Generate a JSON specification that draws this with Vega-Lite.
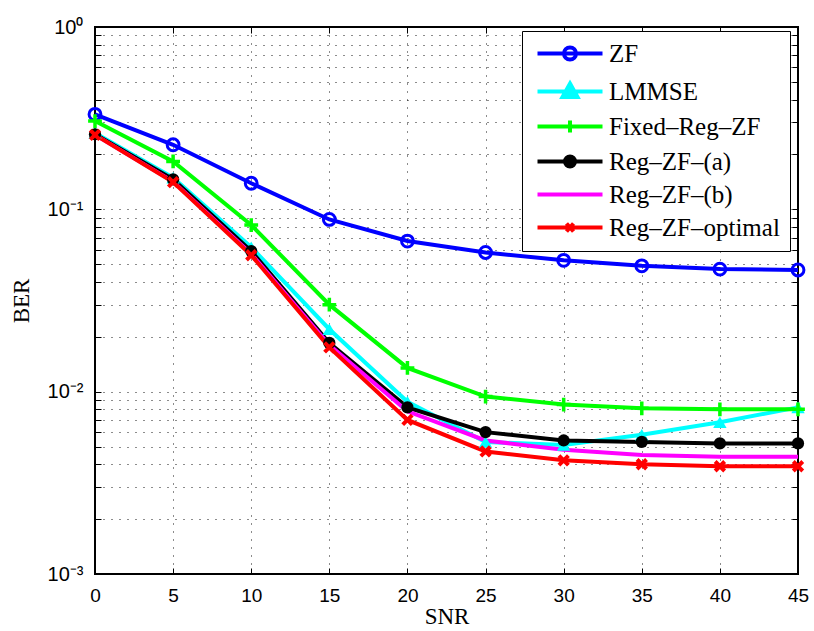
{
  "$schema": "https://vega.github.io/schema/vega-lite/v6.json",
  "width": 703,
  "height": 547,
  "autosize": "none",
  "padding": {"left": 95, "top": 27, "right": 16, "bottom": 57},
  "background": "white",
  "config": {"view": {"stroke": "black", "strokeWidth": 2}, "font": "Liberation Sans"},
  "data": {"values": [
    {"snr": 0, "ber": 0.332, "method": "ZF"},
    {"snr": 5, "ber": 0.226, "method": "ZF"},
    {"snr": 10, "ber": 0.139, "method": "ZF"},
    {"snr": 15, "ber": 0.088, "method": "ZF"},
    {"snr": 20, "ber": 0.067, "method": "ZF"},
    {"snr": 25, "ber": 0.058, "method": "ZF"},
    {"snr": 30, "ber": 0.0525, "method": "ZF"},
    {"snr": 35, "ber": 0.049, "method": "ZF"},
    {"snr": 40, "ber": 0.047, "method": "ZF"},
    {"snr": 45, "ber": 0.0465, "method": "ZF"},
    {"snr": 0, "ber": 0.262, "method": "LMMSE"},
    {"snr": 5, "ber": 0.149, "method": "LMMSE"},
    {"snr": 10, "ber": 0.062, "method": "LMMSE"},
    {"snr": 15, "ber": 0.022, "method": "LMMSE"},
    {"snr": 20, "ber": 0.0088, "method": "LMMSE"},
    {"snr": 25, "ber": 0.0053, "method": "LMMSE"},
    {"snr": 30, "ber": 0.0051, "method": "LMMSE"},
    {"snr": 35, "ber": 0.0058, "method": "LMMSE"},
    {"snr": 40, "ber": 0.0068, "method": "LMMSE"},
    {"snr": 45, "ber": 0.0082, "method": "LMMSE"},
    {"snr": 0, "ber": 0.305, "method": "Fixed–Reg–ZF"},
    {"snr": 5, "ber": 0.183, "method": "Fixed–Reg–ZF"},
    {"snr": 10, "ber": 0.082, "method": "Fixed–Reg–ZF"},
    {"snr": 15, "ber": 0.030, "method": "Fixed–Reg–ZF"},
    {"snr": 20, "ber": 0.0135, "method": "Fixed–Reg–ZF"},
    {"snr": 25, "ber": 0.0094, "method": "Fixed–Reg–ZF"},
    {"snr": 30, "ber": 0.0085, "method": "Fixed–Reg–ZF"},
    {"snr": 35, "ber": 0.0081, "method": "Fixed–Reg–ZF"},
    {"snr": 40, "ber": 0.0080, "method": "Fixed–Reg–ZF"},
    {"snr": 45, "ber": 0.0080, "method": "Fixed–Reg–ZF"},
    {"snr": 0, "ber": 0.258, "method": "Reg–ZF–(a)"},
    {"snr": 5, "ber": 0.146, "method": "Reg–ZF–(a)"},
    {"snr": 10, "ber": 0.059, "method": "Reg–ZF–(a)"},
    {"snr": 15, "ber": 0.0185, "method": "Reg–ZF–(a)"},
    {"snr": 20, "ber": 0.0082, "method": "Reg–ZF–(a)"},
    {"snr": 25, "ber": 0.0060, "method": "Reg–ZF–(a)"},
    {"snr": 30, "ber": 0.0054, "method": "Reg–ZF–(a)"},
    {"snr": 35, "ber": 0.0053, "method": "Reg–ZF–(a)"},
    {"snr": 40, "ber": 0.0052, "method": "Reg–ZF–(a)"},
    {"snr": 45, "ber": 0.0052, "method": "Reg–ZF–(a)"},
    {"snr": 0, "ber": 0.256, "method": "Reg–ZF–(b)"},
    {"snr": 5, "ber": 0.142, "method": "Reg–ZF–(b)"},
    {"snr": 10, "ber": 0.057, "method": "Reg–ZF–(b)"},
    {"snr": 15, "ber": 0.018, "method": "Reg–ZF–(b)"},
    {"snr": 20, "ber": 0.0078, "method": "Reg–ZF–(b)"},
    {"snr": 25, "ber": 0.0054, "method": "Reg–ZF–(b)"},
    {"snr": 30, "ber": 0.0048, "method": "Reg–ZF–(b)"},
    {"snr": 35, "ber": 0.0045, "method": "Reg–ZF–(b)"},
    {"snr": 40, "ber": 0.0044, "method": "Reg–ZF–(b)"},
    {"snr": 45, "ber": 0.0044, "method": "Reg–ZF–(b)"},
    {"snr": 0, "ber": 0.256, "method": "Reg–ZF–optimal"},
    {"snr": 5, "ber": 0.141, "method": "Reg–ZF–optimal"},
    {"snr": 10, "ber": 0.056, "method": "Reg–ZF–optimal"},
    {"snr": 15, "ber": 0.0175, "method": "Reg–ZF–optimal"},
    {"snr": 20, "ber": 0.0070, "method": "Reg–ZF–optimal"},
    {"snr": 25, "ber": 0.0047, "method": "Reg–ZF–optimal"},
    {"snr": 30, "ber": 0.0042, "method": "Reg–ZF–optimal"},
    {"snr": 35, "ber": 0.0040, "method": "Reg–ZF–optimal"},
    {"snr": 40, "ber": 0.0039, "method": "Reg–ZF–optimal"},
    {"snr": 45, "ber": 0.0039, "method": "Reg–ZF–optimal"}
  ]},
  "resolve": {"axis": {"x": "independent", "y": "independent"}},
  "layer": [
    {
      "encoding": {
        "x": {
          "field": "snr", "type": "quantitative",
          "scale": {"domain": [0, 45], "nice": false, "zero": false},
          "axis": {
            "values": [0, 5, 10, 15, 20, 25, 30, 35, 40, 45],
            "grid": true, "gridColor": "black", "gridDash": [1, 7], "gridOpacity": 0.9, "gridWidth": 1,
            "domain": false, "tickSize": -6, "tickColor": "black", "tickWidth": 1,
            "labelFont": "Liberation Sans", "labelFontSize": 19, "labelColor": "black",
            "labelPadding": 18, "labelFlush": false, "labelBound": false,
            "title": "SNR", "titleFont": "Liberation Serif", "titleFontSize": 23,
            "titleFontWeight": "normal", "titleColor": "black", "titlePadding": 0
          }
        },
        "y": {
          "field": "ber", "type": "quantitative",
          "scale": {"type": "log", "domain": [0.001, 1], "nice": false},
          "axis": {
            "values": [0.001, 0.002, 0.003, 0.004, 0.005, 0.006, 0.007, 0.008, 0.009, 0.01, 0.02, 0.03, 0.04, 0.05, 0.06, 0.07, 0.08, 0.09, 0.1, 0.2, 0.3, 0.4, 0.5, 0.6, 0.7, 0.8, 0.9, 1],
            "labelExpr": "datum.value == 1 ? '10⁰' : datum.value == 0.1 ? '10⁻¹' : datum.value == 0.01 ? '10⁻²' : datum.value == 0.001 ? '10⁻³' : ''",
            "grid": true, "gridColor": "black", "gridDash": [1, 7], "gridOpacity": 0.9, "gridWidth": 1,
            "domain": false, "tickSize": -6, "tickColor": "black", "tickWidth": 1,
            "labelFont": "Liberation Sans", "labelFontSize": 20, "labelColor": "black",
            "labelPadding": 18, "labelOverlap": false, "labelFlush": false, "labelBound": false,
            "title": "BER", "titleFont": "Liberation Serif", "titleFontSize": 23,
            "titleFontWeight": "normal", "titleColor": "black", "titlePadding": 14
          }
        }
      },
      "layer": [
        {
          "mark": {"type": "line", "strokeWidth": 4},
          "encoding": {
            "color": {
              "field": "method", "type": "nominal",
              "scale": {
                "domain": ["ZF", "LMMSE", "Fixed–Reg–ZF", "Reg–ZF–(a)", "Reg–ZF–(b)", "Reg–ZF–optimal"],
                "range": ["#0000ff", "#00ffff", "#00ff00", "#000000", "#ff00ff", "#ff0000"]
              },
              "legend": {
                "title": null, "orient": "none", "legendX": 427, "legendY": 4,
                "strokeColor": "black", "fillColor": "white", "padding": 10, "cornerRadius": 0,
                "labelFont": "Liberation Serif", "labelFontSize": 25, "labelColor": "black",
                "labelOffset": 52, "labelLimit": 400, "rowPadding": 7,
                "symbolSize": 100, "symbolStrokeWidth": 4,
                "encode": {
                  "symbols": {
                    "update": {
                      "shape": {"signal": "datum.value === 'ZF' ? 'M-1.4,0H11.6M3.9,0A1.2,1.2 0 1,0 6.3,0A1.2,1.2 0 1,0 3.9,0' : datum.value === 'LMMSE' ? 'M-1.4,0H11.6M5.1,-1.6L6.6,1.1L3.6,1.1Z' : datum.value === 'Fixed–Reg–ZF' ? 'M-1.4,0H11.6M3.9,0H6.3M5.1,-1.2V1.2' : datum.value === 'Reg–ZF–(a)' ? 'M-1.4,0H11.6M4.1,0A1,1 0 1,0 6.1,0A1,1 0 1,0 4.1,0' : datum.value === 'Reg–ZF–optimal' ? 'M-1.4,0H11.6M4.4,-0.8L5.8,0.8M4.4,0.8L5.8,-0.8' : 'M-1.4,0H11.6'"},
                      "fill": {"signal": "datum.value === 'LMMSE' ? '#00ffff' : datum.value === 'Reg–ZF–(a)' ? '#000000' : 'transparent'"},
                      "strokeWidth": {"value": 4},
                      "size": {"value": 100}
                    }
                  }
                }
              }
            }
          }
        },
        {
          "transform": [{"filter": "datum.method === 'ZF'"}],
          "mark": {"type": "point", "shape": "circle", "filled": false, "color": "#0000ff", "size": 140, "strokeWidth": 3, "opacity": 1}
        },
        {
          "transform": [{"filter": "datum.method === 'LMMSE'"}],
          "mark": {"type": "point", "shape": "triangle-up", "filled": true, "color": "#00ffff", "size": 180, "opacity": 1}
        },
        {
          "transform": [{"filter": "datum.method === 'Fixed–Reg–ZF'"}],
          "mark": {"type": "point", "shape": "M-1,0H1M0,-1V1", "filled": false, "color": "#00ff00", "size": 190, "strokeWidth": 3.5, "opacity": 1}
        },
        {
          "transform": [{"filter": "datum.method === 'Reg–ZF–(a)'"}],
          "mark": {"type": "point", "shape": "circle", "filled": true, "color": "#000000", "size": 150, "opacity": 1}
        },
        {
          "transform": [{"filter": "datum.method === 'Reg–ZF–optimal'"}],
          "mark": {"type": "point", "shape": "M-1,-1L1,1M-1,1L1,-1", "filled": false, "color": "#ff0000", "size": 90, "strokeWidth": 4, "opacity": 1}
        }
      ]
    },
    {
      "mark": {"type": "point", "opacity": 0},
      "encoding": {
        "x": {
          "field": "snr", "type": "quantitative",
          "axis": {"orient": "top", "values": [0, 5, 10, 15, 20, 25, 30, 35, 40, 45], "labels": false, "grid": false, "domain": false, "tickSize": -6, "tickColor": "black", "title": null}
        },
        "y": {
          "field": "ber", "type": "quantitative", "scale": {"type": "log"},
          "axis": {"orient": "right", "values": [0.001, 0.002, 0.003, 0.004, 0.005, 0.006, 0.007, 0.008, 0.009, 0.01, 0.02, 0.03, 0.04, 0.05, 0.06, 0.07, 0.08, 0.09, 0.1, 0.2, 0.3, 0.4, 0.5, 0.6, 0.7, 0.8, 0.9, 1], "labels": false, "grid": false, "domain": false, "tickSize": -6, "tickColor": "black", "title": null}
        }
      }
    }
  ]
}
